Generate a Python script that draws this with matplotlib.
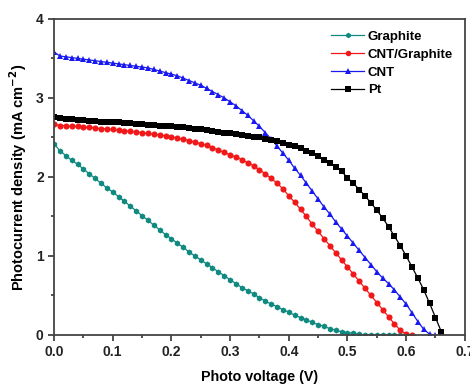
import matplotlib
matplotlib.use("Agg")
import matplotlib.pyplot as plt
from matplotlib.ticker import MultipleLocator

plt.rcParams['font.family'] = ['Liberation Sans', 'DejaVu Sans']
plt.rcParams['font.weight'] = 'bold'

# Voltage grid (V) for each curve
v_graphite = [round(0.01 * i, 2) for i in range(61)]
j_graphite = [2.42, 2.33, 2.27, 2.21, 2.16, 2.10, 2.04, 1.98, 1.92, 1.86,
              1.81, 1.75, 1.69, 1.63, 1.57, 1.51, 1.45, 1.39, 1.33, 1.27,
              1.22, 1.16, 1.11, 1.05, 1.00, 0.95, 0.90, 0.85, 0.80, 0.75,
              0.70, 0.65, 0.60, 0.56, 0.52, 0.47, 0.43, 0.39, 0.36, 0.32,
              0.29, 0.25, 0.22, 0.19, 0.16, 0.13, 0.11, 0.08, 0.06, 0.04,
              0.03, 0.02, 0.01, 0.00, 0.00, 0.00, 0.00, 0.00, 0.00, 0.00,
              0.00]

v_cntg = [round(0.01 * i, 2) for i in range(62)]
j_cntg = [2.67, 2.65, 2.65, 2.64, 2.64, 2.63, 2.63, 2.62, 2.61, 2.61,
          2.60, 2.59, 2.58, 2.58, 2.57, 2.56, 2.55, 2.54, 2.53, 2.52,
          2.51, 2.49, 2.48, 2.46, 2.44, 2.42, 2.40, 2.37, 2.34, 2.31,
          2.28, 2.25, 2.22, 2.18, 2.14, 2.09, 2.04, 1.98, 1.92, 1.85,
          1.76, 1.68, 1.59, 1.50, 1.40, 1.31, 1.22, 1.13, 1.04, 0.95,
          0.86, 0.77, 0.68, 0.59, 0.50, 0.41, 0.32, 0.23, 0.14, 0.06,
          0.01, 0.00]

v_cnt = [round(0.01 * i, 2) for i in range(66)]
j_cnt = [3.58, 3.53, 3.52, 3.51, 3.50, 3.49, 3.48, 3.47, 3.46, 3.45,
         3.44, 3.43, 3.42, 3.41, 3.40, 3.39, 3.38, 3.36, 3.34, 3.32,
         3.30, 3.28, 3.25, 3.22, 3.19, 3.16, 3.12, 3.08, 3.04, 3.00,
         2.95, 2.90, 2.84, 2.78, 2.71, 2.64, 2.56, 2.48, 2.39, 2.30,
         2.21, 2.11, 2.02, 1.92, 1.82, 1.72, 1.62, 1.53, 1.43, 1.34,
         1.25, 1.16, 1.07, 0.98, 0.89, 0.80, 0.72, 0.65, 0.57, 0.48,
         0.39, 0.28, 0.17, 0.07, 0.01, 0.00]

v_pt = [round(0.01 * i, 2) for i in range(67)]
j_pt = [2.76, 2.74, 2.73, 2.73, 2.72, 2.72, 2.71, 2.71, 2.70, 2.70,
        2.69, 2.69, 2.68, 2.68, 2.67, 2.67, 2.66, 2.66, 2.65, 2.65,
        2.64, 2.63, 2.63, 2.62, 2.61, 2.60, 2.59, 2.58, 2.57, 2.56,
        2.55, 2.54, 2.53, 2.52, 2.51, 2.50, 2.48, 2.47, 2.45, 2.43,
        2.41, 2.39, 2.36, 2.33, 2.30, 2.26, 2.22, 2.18, 2.13, 2.07,
        1.99, 1.92, 1.84, 1.76, 1.67, 1.58, 1.48, 1.37, 1.25, 1.13,
        1.00, 0.86, 0.72, 0.57, 0.40, 0.22, 0.04]

labels = ["Graphite", "CNT/Graphite", "CNT", "Pt"]
colors = ["#108a80", "#f01818", "#1818f0", "#000000"]
markers = ["h", "o", "^", "s"]

fig = plt.figure(figsize=(4.70, 3.85), dpi=100)
ax = fig.add_axes([0.115, 0.130, 0.874, 0.821])

series = [(v_graphite, j_graphite), (v_cntg, j_cntg), (v_cnt, j_cnt), (v_pt, j_pt)]
for (v, j), lab, c, m in zip(series, labels, colors, markers):
    ax.plot(v, j, color=c, marker=m, markersize=4.4, linewidth=0.9,
            markeredgewidth=0, label=lab)

ax.set_xlim(0, 0.7)
ax.set_ylim(0, 4)
ax.xaxis.set_major_locator(MultipleLocator(0.1))
ax.xaxis.set_minor_locator(MultipleLocator(0.05))
ax.yaxis.set_major_locator(MultipleLocator(1))
ax.yaxis.set_minor_locator(MultipleLocator(0.5))
ax.tick_params(which='both', direction='out', top=False, right=False,
               width=1.2, colors='#333333', labelcolor='#222222', labelsize=10)
ax.tick_params(which='major', length=4)
ax.tick_params(which='minor', length=2.5)
for s in ax.spines.values():
    s.set_linewidth(1.3)
    s.set_color('#444444')

ax.set_xlabel("Photo voltage (V)", fontsize=10.3, fontweight='bold', labelpad=8)
ax.set_ylabel("Photocurrent density (mA cm$^{\\mathbf{-2}}$)", fontsize=10.5,
              fontweight='bold', labelpad=5)

leg = ax.legend(loc='upper right', frameon=False, fontsize=9.5,
                handlelength=2.5, handletextpad=0.25, labelspacing=0.42,
                borderaxespad=0.5, borderpad=0.4, markerscale=0.9)

fig.savefig("out.png", dpi=100)
